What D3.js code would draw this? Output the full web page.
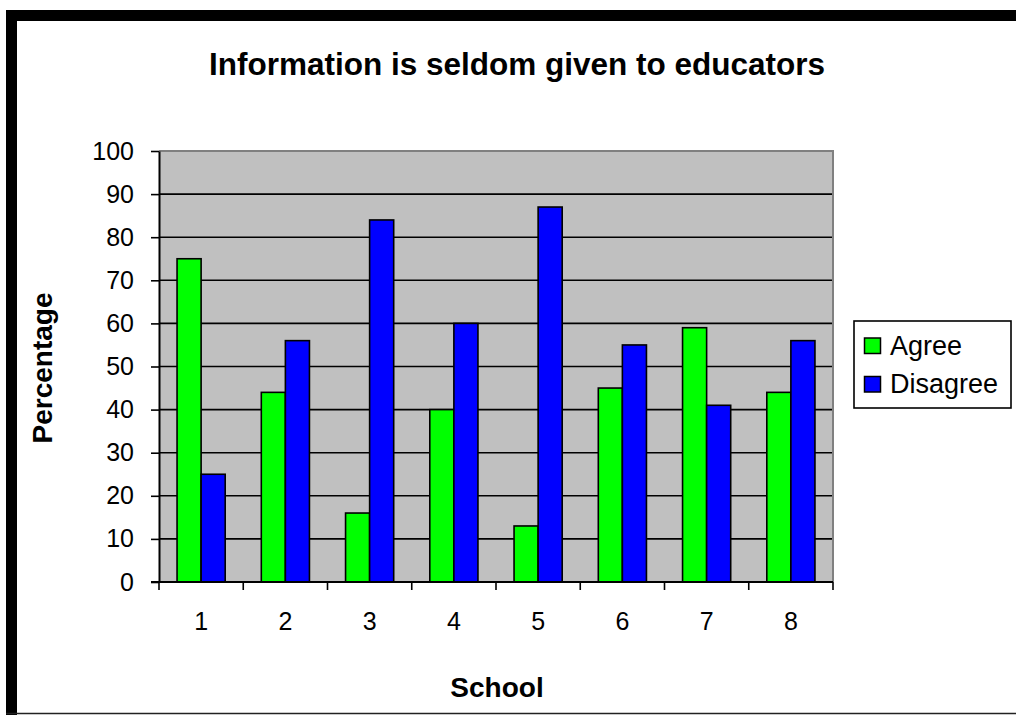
<!DOCTYPE html>
<html>
<head>
<meta charset="utf-8">
<script src="https://cdn.jsdelivr.net/npm/d3@7"></script>
<style>
  html, body { margin: 0; padding: 0; background: #fff; }
  svg { display: block; font-family: "Liberation Sans", Arial, sans-serif; }
</style>
</head>
<body>
<svg id="chart" width="1016" height="715"></svg>
<script>
// Survey results per school
const schools = ["1", "2", "3", "4", "5", "6", "7", "8"];
const seriesNames = ["Agree", "Disagree"];
const agree = [75, 44, 16, 40, 13, 45, 59, 44];
const disagree = [25, 56, 84, 60, 87, 55, 41, 56];
const yTicks = [0, 10, 20, 30, 40, 50, 60, 70, 80, 90, 100];
const seriesColors = ["#00ff00", "#0000ff"];

const svg = d3.select("#chart");

// Outer frame: heavy top and left edges, thin bottom edge
svg.append("rect").attr("x", 6).attr("y", 10).attr("width", 1010).attr("height", 11).attr("fill", "#000");
svg.append("rect").attr("x", 6).attr("y", 10).attr("width", 11).attr("height", 705).attr("fill", "#000");
svg.append("line").attr("x1", 6).attr("x2", 1016).attr("y1", 713.5).attr("y2", 713.5)
  .attr("stroke", "#222").attr("stroke-width", 1.5);

const plot = { left: 159, right: 833, top: 151, bottom: 582 };

const x = d3.scaleBand().domain(schools).range([plot.left, plot.right]).padding(0);
const xInner = d3.scaleBand().domain(seriesNames).range([0, x.bandwidth()])
  .paddingInner(0).paddingOuter(0.75);
const y = d3.scaleLinear().domain([0, 100]).range([plot.bottom, plot.top]);

// Plot background
svg.append("rect")
  .attr("x", plot.left).attr("y", plot.top)
  .attr("width", plot.right - plot.left).attr("height", plot.bottom - plot.top)
  .attr("fill", "#c0c0c0");

// Horizontal gridlines
svg.append("g").selectAll("line")
  .data(yTicks.filter(d => d > 0 && d < 100))
  .join("line")
  .attr("x1", plot.left).attr("x2", plot.right)
  .attr("y1", d => y(d)).attr("y2", d => y(d))
  .attr("stroke", "#000").attr("stroke-width", 1.6);

// Top and right edges of plot area
svg.append("path")
  .attr("d", `M${plot.left},${plot.top}H${plot.right}V${plot.bottom}`)
  .attr("fill", "none").attr("stroke", "#808080").attr("stroke-width", 2);

// Bars
const rows = schools.map((s, i) => ({ school: s, values: [agree[i], disagree[i]] }));
const groups = svg.append("g").selectAll("g")
  .data(rows).join("g")
  .attr("transform", d => `translate(${x(d.school)},0)`);
groups.selectAll("rect")
  .data(d => d.values.map((v, k) => ({ name: seriesNames[k], value: v, color: seriesColors[k] })))
  .join("rect")
  .attr("x", d => xInner(d.name))
  .attr("y", d => y(d.value))
  .attr("width", xInner.bandwidth())
  .attr("height", d => y(0) - y(d.value))
  .attr("fill", d => d.color)
  .attr("stroke", "#000").attr("stroke-width", 1.6);

// Y axis
const yAxis = svg.append("g")
  .attr("transform", `translate(${plot.left},0)`)
  .call(d3.axisLeft(y).tickValues(yTicks).tickSize(8).tickPadding(17).tickSizeOuter(0));
yAxis.select(".domain").attr("stroke", "#000").attr("stroke-width", 2);
yAxis.selectAll(".tick line").attr("stroke", "#000").attr("stroke-width", 1.6);
yAxis.selectAll(".tick text").attr("font-size", 25).attr("fill", "#000")
  .attr("font-family", "Liberation Sans, Arial, sans-serif");

// X axis: ticks at category boundaries
const xAxisG = svg.append("g").attr("transform", `translate(0,${plot.bottom})`);
xAxisG.append("line").attr("x1", plot.left - 8).attr("x2", plot.right)
  .attr("y1", 0).attr("y2", 0).attr("stroke", "#000").attr("stroke-width", 2);
const boundaries = schools.map(s => x(s)).concat([x(schools[schools.length - 1]) + x.bandwidth()]);
xAxisG.selectAll("line.tk").data(boundaries).join("line").attr("class", "tk")
  .attr("x1", d => d).attr("x2", d => d).attr("y1", 0).attr("y2", 8)
  .attr("stroke", "#000").attr("stroke-width", 1.6);
xAxisG.selectAll("text").data(schools).join("text")
  .attr("x", d => x(d) + x.bandwidth() / 2)
  .attr("y", 48)
  .attr("text-anchor", "middle")
  .attr("font-size", 25).attr("fill", "#000")
  .text(d => d);

// Titles
svg.append("text").attr("x", 517).attr("y", 75).attr("text-anchor", "middle")
  .attr("font-size", 31.5).attr("font-weight", "bold").text("Information is seldom given to educators");
svg.append("text").attr("x", 497).attr("y", 697).attr("text-anchor", "middle")
  .attr("font-size", 28).attr("font-weight", "bold").text("School");
svg.append("text")
  .attr("transform", `translate(52,368) rotate(-90)`)
  .attr("text-anchor", "middle")
  .attr("font-size", 28).attr("font-weight", "bold").text("Percentage");

// Legend
const legend = svg.append("g");
legend.append("rect").attr("x", 854).attr("y", 321).attr("width", 157).attr("height", 87)
  .attr("fill", "#fff").attr("stroke", "#000").attr("stroke-width", 1.6);
const items = legend.selectAll("g.item").data(seriesNames).join("g").attr("class", "item")
  .attr("transform", (d, i) => `translate(0,${i * 38.5})`);
items.append("rect").attr("x", 864.5).attr("y", 338).attr("width", 16).attr("height", 15.5)
  .attr("fill", (d, i) => seriesColors[i]).attr("stroke", "#000").attr("stroke-width", 1.5);
items.append("text").attr("x", 890).attr("y", 354.5).attr("font-size", 27).attr("fill", "#000")
  .text(d => d);
</script>
</body>
</html>
